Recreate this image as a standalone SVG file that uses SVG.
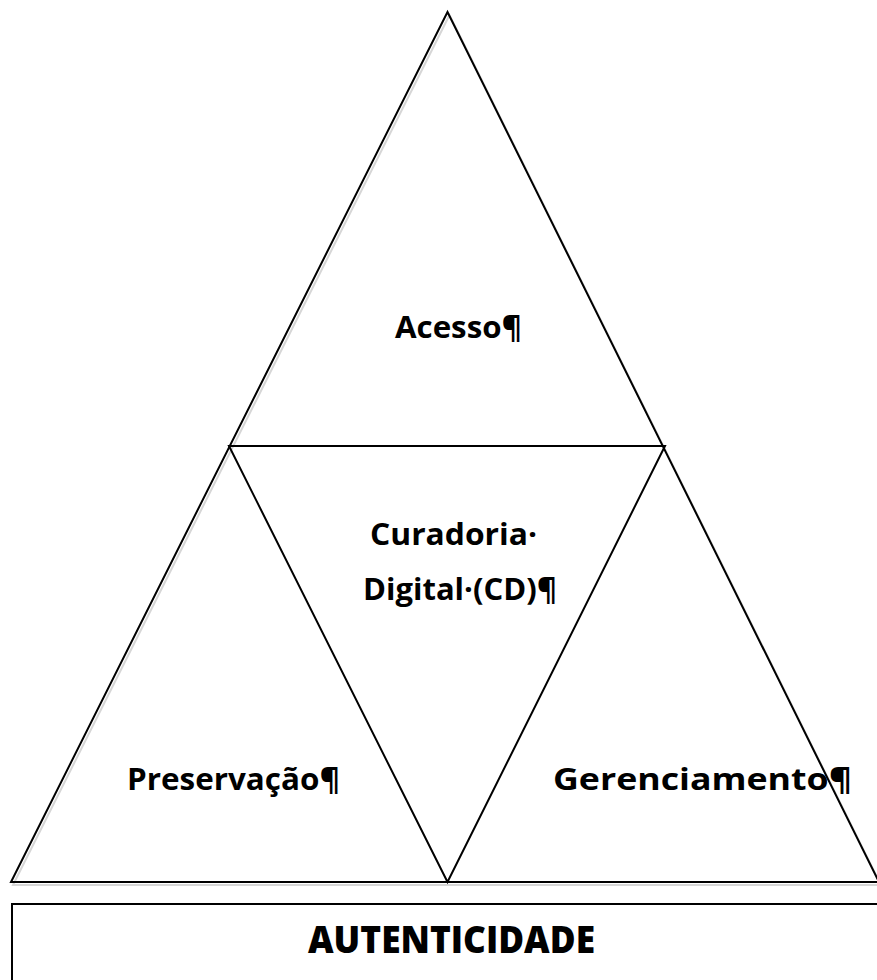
<svg xmlns="http://www.w3.org/2000/svg" width="877" height="980" viewBox="0 0 877 980">
  <style>
    .edge { fill: none; stroke: #000; stroke-width: 2; stroke-linejoin: miter; }
    .shade { fill: none; stroke: #bbb; stroke-width: 2; opacity: 0.6; }
    .label { font-family: "Open Sans", "Liberation Sans", sans-serif; font-weight: bold; font-size: 30px; fill: #000; }
    .title { font-family: "Open Sans", "Liberation Sans", sans-serif; font-weight: 800; font-size: 37px; fill: #000; }
  </style>
  <rect width="877" height="980" fill="#fff"/>

  <!-- outline shapes -->
  <g id="connectors">
    <polygon class="shade" points="449.5,14 881,884 13,884" transform="translate(0,1)"/>
    <polygon class="edge" points="447.5,12 879,882 11,882"/>
    <polygon class="edge" points="229,446 665,446 447.5,882"/>
  </g>

  <g id="acesso">
    <text class="label" x="395" y="338" textLength="127" lengthAdjust="spacingAndGlyphs">Acesso¶</text>
  </g>
  <g id="curadoria">
    <text class="label" x="370" y="545" textLength="167" lengthAdjust="spacingAndGlyphs">Curadoria·</text>
    <text class="label" x="363" y="600" textLength="194" lengthAdjust="spacingAndGlyphs">Digital·(CD)¶</text>
  </g>
  <g id="preservacao">
    <text class="label" x="127" y="790" textLength="213" lengthAdjust="spacingAndGlyphs">Preservação¶</text>
  </g>
  <g id="gerenciamento">
    <text class="label" x="553" y="790" textLength="299" lengthAdjust="spacingAndGlyphs">Gerenciamento¶</text>
  </g>

  <g id="autenticidade">
    <rect class="edge" x="12" y="904" width="870" height="90"/>
    <text class="title" x="308" y="953" textLength="287" lengthAdjust="spacingAndGlyphs">AUTENTICIDADE</text>
  </g>
</svg>
